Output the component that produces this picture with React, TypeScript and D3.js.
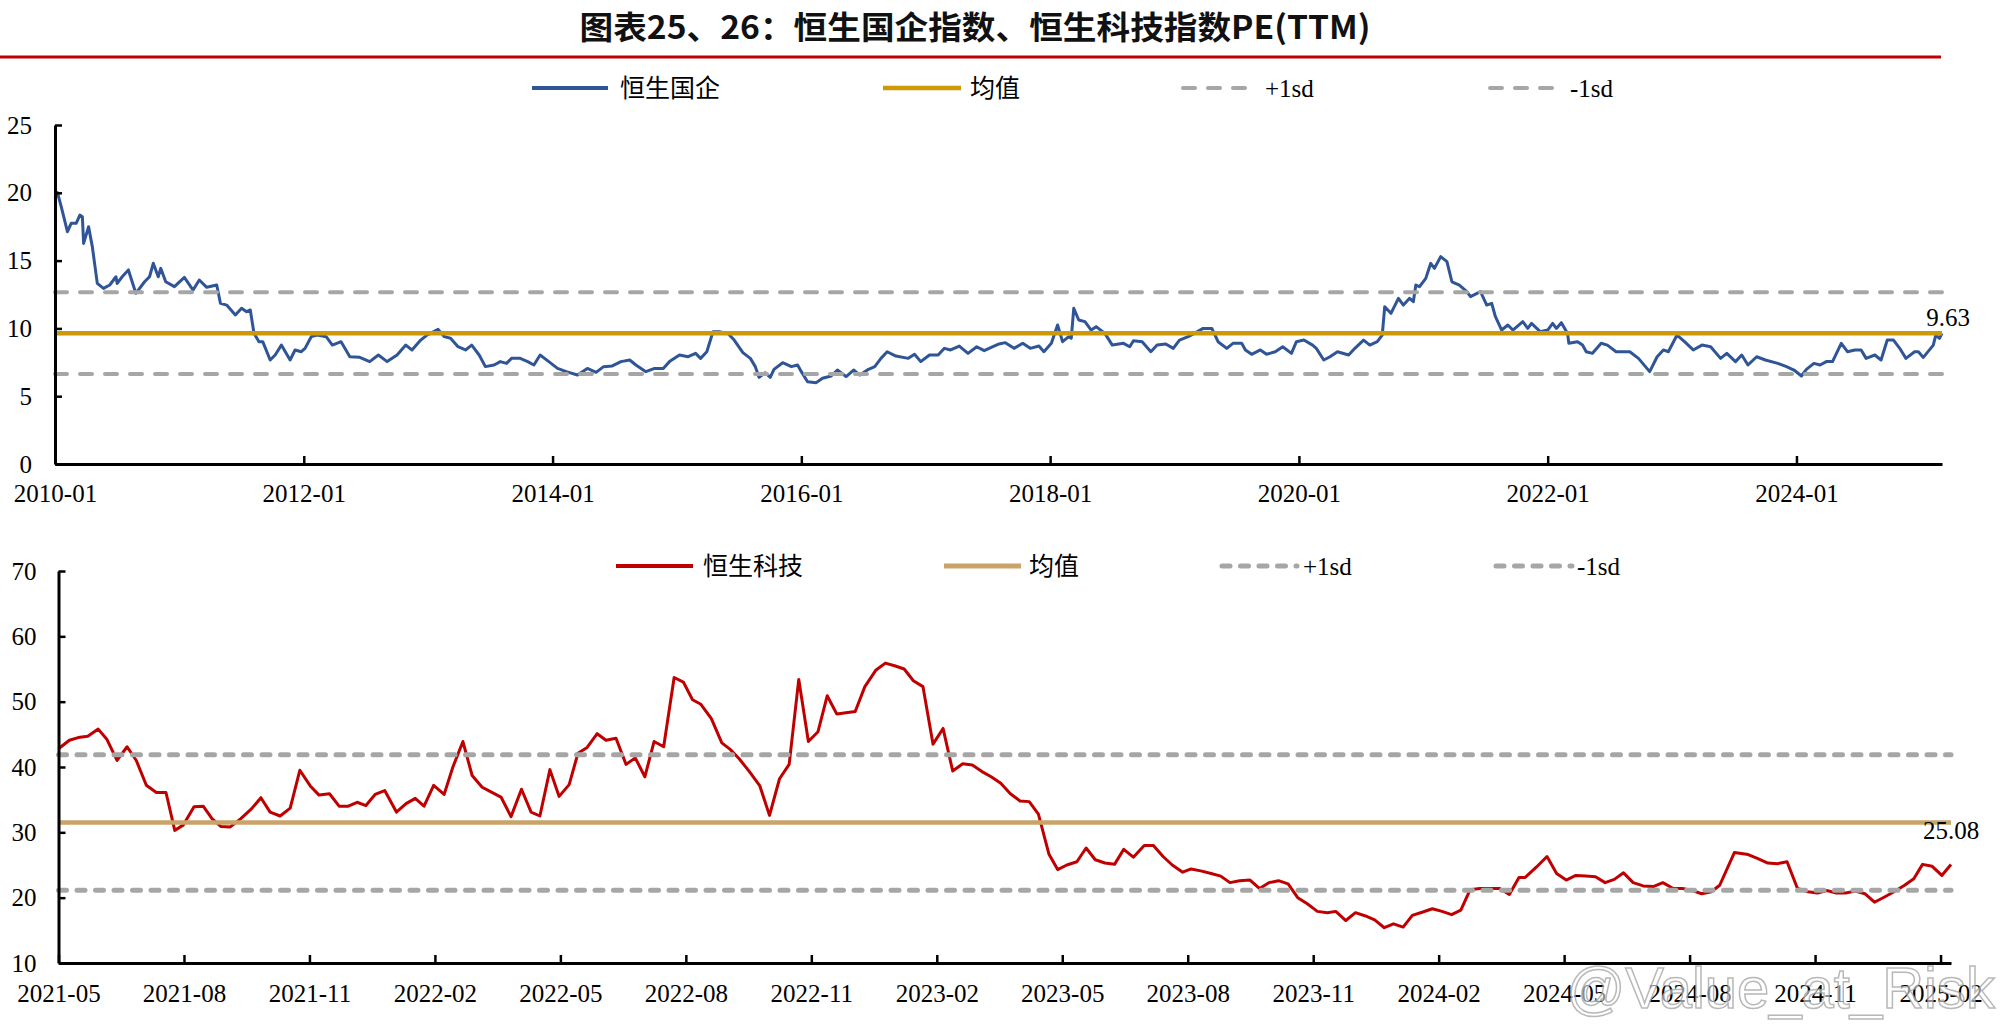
import { useEffect, useRef } from 'react'
import * as d3 from 'd3'

const W = 2001
const H = 1029
const SERIF = '"Liberation Serif", "Times New Roman", "Noto Sans CJK SC", serif'
const TITLE_FONT = '"Noto Sans CJK SC", "Liberation Sans", sans-serif'

// ---- 恒生国企 PE(TTM), x = decimal year ----
const hsceiT = [
  2010.00, 2010.02, 2010.05, 2010.10, 2010.13, 2010.17, 2010.20, 2010.22, 2010.23, 2010.27,
  2010.30, 2010.34, 2010.39, 2010.44, 2010.49, 2010.50, 2010.54, 2010.59, 2010.65, 2010.72,
  2010.76, 2010.79, 2010.83, 2010.85, 2010.89, 2010.96, 2011.04, 2011.11, 2011.16, 2011.22,
  2011.30, 2011.33, 2011.38, 2011.45, 2011.50, 2011.54, 2011.57, 2011.60, 2011.64, 2011.67,
  2011.73, 2011.77, 2011.82, 2011.89, 2011.93, 2011.98, 2012.01, 2012.06, 2012.11, 2012.18,
  2012.23, 2012.30, 2012.37, 2012.45, 2012.53, 2012.60, 2012.67, 2012.75, 2012.82, 2012.87,
  2012.94, 2012.99, 2013.08, 2013.13, 2013.18, 2013.24, 2013.30, 2013.35, 2013.41, 2013.46,
  2013.53, 2013.58, 2013.63, 2013.67, 2013.74, 2013.80, 2013.85, 2013.90, 2013.97, 2014.04,
  2014.11, 2014.20, 2014.28, 2014.35, 2014.41, 2014.48, 2014.55, 2014.62, 2014.67, 2014.75,
  2014.82, 2014.89, 2014.94, 2015.02, 2015.09, 2015.15, 2015.19, 2015.24, 2015.29, 2015.34,
  2015.41, 2015.46, 2015.53, 2015.59, 2015.63, 2015.66, 2015.71, 2015.75, 2015.78, 2015.85,
  2015.92, 2015.97, 2016.00, 2016.05, 2016.12, 2016.17, 2016.24, 2016.29, 2016.36, 2016.42,
  2016.47, 2016.54, 2016.59, 2016.64, 2016.69, 2016.76, 2016.86, 2016.91, 2016.96, 2017.03,
  2017.10, 2017.15, 2017.20, 2017.27, 2017.34, 2017.41, 2017.47, 2017.54, 2017.59, 2017.64,
  2017.71, 2017.78, 2017.84, 2017.91, 2017.95, 2018.01, 2018.06, 2018.10, 2018.15, 2018.17,
  2018.19, 2018.23, 2018.28, 2018.33, 2018.37, 2018.44, 2018.50, 2018.59, 2018.64, 2018.67,
  2018.74, 2018.81, 2018.86, 2018.93, 2018.99, 2019.04, 2019.11, 2019.16, 2019.23, 2019.30,
  2019.35, 2019.42, 2019.47, 2019.54, 2019.57, 2019.62, 2019.69, 2019.74, 2019.81, 2019.87,
  2019.94, 2019.98, 2020.04, 2020.11, 2020.14, 2020.20, 2020.25, 2020.31, 2020.40, 2020.45,
  2020.52, 2020.57, 2020.63, 2020.67, 2020.69, 2020.74, 2020.80, 2020.84, 2020.89, 2020.92,
  2020.94, 2020.97, 2021.02, 2021.06, 2021.09, 2021.14, 2021.19, 2021.23, 2021.29, 2021.35,
  2021.38, 2021.46, 2021.51, 2021.55, 2021.58, 2021.63, 2021.68, 2021.72, 2021.80, 2021.84,
  2021.87, 2021.94, 2022.00, 2022.04, 2022.07, 2022.11, 2022.16, 2022.17, 2022.24, 2022.28,
  2022.31, 2022.36, 2022.43, 2022.48, 2022.55, 2022.66, 2022.73, 2022.82, 2022.88, 2022.93,
  2022.97, 2023.04, 2023.10, 2023.17, 2023.24, 2023.31, 2023.39, 2023.44, 2023.51, 2023.56,
  2023.61, 2023.68, 2023.75, 2023.85, 2023.92, 2023.98, 2024.04, 2024.08, 2024.14, 2024.19,
  2024.24, 2024.29, 2024.36, 2024.41, 2024.47, 2024.52, 2024.56, 2024.63, 2024.68, 2024.73,
  2024.78, 2024.83, 2024.88, 2024.95, 2024.98, 2025.02, 2025.10, 2025.12, 2025.15, 2025.17,
]
const hsceiPE = [
  19.59, 20.01, 18.98, 17.13, 17.75, 17.75, 18.36, 18.24, 16.27, 17.50,
  16.03, 13.32, 12.95, 13.20, 13.81, 13.32, 13.81, 14.31, 12.59, 13.44,
  13.81, 14.80, 13.81, 14.43, 13.44, 13.08, 13.76, 12.83, 13.57, 13.03,
  13.20, 11.85, 11.72, 10.99, 11.48, 11.23, 11.36, 9.63, 9.02, 9.02,
  7.67, 8.04, 8.77, 7.67, 8.41, 8.28, 8.53, 9.39, 9.51, 9.39,
  8.77, 9.02, 7.91, 7.87, 7.55, 8.04, 7.55, 8.04, 8.77, 8.41,
  9.14, 9.51, 9.93, 9.39, 9.27, 8.65, 8.41, 8.77, 8.04, 7.18,
  7.30, 7.55, 7.42, 7.79, 7.79, 7.55, 7.30, 8.04, 7.55, 7.05,
  6.81, 6.56, 7.05, 6.76, 7.18, 7.23, 7.55, 7.67, 7.30, 6.81,
  7.05, 7.05, 7.55, 8.04, 7.91, 8.16, 7.79, 8.28, 9.76, 9.76,
  9.63, 9.14, 8.21, 7.79, 7.18, 6.39, 6.73, 6.39, 6.98, 7.47,
  7.18, 7.30, 6.81, 6.07, 6.00, 6.32, 6.49, 6.93, 6.44, 6.93,
  6.56, 6.98, 7.18, 7.79, 8.28, 7.96, 7.79, 8.09, 7.55, 8.04,
  8.04, 8.53, 8.41, 8.70, 8.16, 8.65, 8.36, 8.65, 8.85, 8.95,
  8.53, 8.90, 8.53, 8.70, 8.28, 8.90, 10.25, 9.02, 9.39, 9.27,
  11.48, 10.62, 10.50, 9.88, 10.13, 9.63, 8.77, 8.90, 8.65, 9.09,
  9.02, 8.28, 8.77, 8.85, 8.53, 9.14, 9.39, 9.63, 10.00, 10.00,
  9.02, 8.53, 8.90, 8.90, 8.41, 8.09, 8.41, 8.09, 8.28, 8.65,
  8.16, 9.02, 9.14, 8.77, 8.53, 7.67, 7.91, 8.28, 8.04, 8.53,
  9.14, 8.77, 9.02, 9.51, 11.60, 11.11, 12.22, 11.72, 12.22, 11.97,
  13.20, 13.08, 13.69, 14.80, 14.43, 15.29, 14.92, 13.44, 13.20, 12.71,
  12.34, 12.71, 11.72, 11.85, 10.86, 9.88, 10.25, 9.88, 10.50, 10.00,
  10.37, 9.76, 9.88, 10.37, 10.00, 10.42, 9.63, 8.90, 9.02, 8.77,
  8.28, 8.16, 8.90, 8.77, 8.28, 8.28, 7.79, 6.81, 7.91, 8.41,
  8.28, 9.51, 9.02, 8.41, 8.77, 8.65, 7.79, 8.16, 7.55, 8.04,
  7.30, 7.91, 7.67, 7.42, 7.18, 6.93, 6.49, 6.98, 7.42, 7.30,
  7.55, 7.55, 8.90, 8.28, 8.41, 8.41, 7.79, 8.04, 7.67, 9.14,
  9.14, 8.53, 7.79, 8.28, 8.28, 7.86, 8.77, 9.51, 9.27, 9.63,
]
const hsceiMean = 9.64
const hsceiPlus1sd = 12.66
const hsceiMinus1sd = 6.64
const hsceiTickYears = [2010, 2012, 2014, 2016, 2018, 2020, 2022, 2024]
const hsceiTickLabels = ['2010-01', '2012-01', '2014-01', '2016-01', '2018-01', '2020-01', '2022-01', '2024-01']
const hsceiYTicks = [0, 5, 10, 15, 20, 25]

// ---- 恒生科技 PE(TTM), x = months since 2021-05 (weekly) ----
const hstechM = [
  0.00, 0.26, 0.47, 0.70, 0.95, 1.16, 1.40, 1.64, 1.86, 2.10,
  2.34, 2.57, 2.78, 2.98, 3.24, 3.46, 3.67, 3.88, 4.10, 4.36,
  4.60, 4.84, 5.06, 5.30, 5.54, 5.77, 6.02, 6.23, 6.48, 6.71,
  6.93, 7.14, 7.35, 7.57, 7.80, 8.08, 8.31, 8.53, 8.74, 8.97,
  9.22, 9.43, 9.67, 9.89, 10.13, 10.34, 10.58, 10.82, 11.07, 11.30,
  11.51, 11.75, 11.97, 12.21, 12.42, 12.64, 12.88, 13.09, 13.33, 13.57,
  13.79, 14.02, 14.24, 14.47, 14.72, 14.94, 15.16, 15.36, 15.61, 15.86,
  16.06, 16.27, 16.52, 16.77, 17.00, 17.24, 17.47, 17.70, 17.93, 18.16,
  18.38, 18.61, 18.83, 19.05, 19.28, 19.54, 19.77, 19.99, 20.22, 20.44,
  20.67, 20.91, 21.15, 21.38, 21.62, 21.85, 22.08, 22.30, 22.53, 22.76,
  22.99, 23.21, 23.43, 23.68, 23.89, 24.11, 24.35, 24.57, 24.79, 25.02,
  25.25, 25.47, 25.70, 25.96, 26.18, 26.41, 26.63, 26.88, 27.08, 27.31,
  27.56, 27.79, 28.01, 28.24, 28.49, 28.72, 28.94, 29.17, 29.40, 29.63,
  29.85, 30.10, 30.34, 30.54, 30.78, 31.01, 31.25, 31.47, 31.70, 31.92,
  32.15, 32.37, 32.62, 32.85, 33.08, 33.31, 33.53, 33.75, 33.98, 34.23,
  34.46, 34.69, 34.92, 35.07, 35.34, 35.59, 35.82, 36.05, 36.28, 36.52,
  36.75, 36.98, 37.20, 37.42, 37.65, 37.89, 38.13, 38.36, 38.61, 38.83,
  39.06, 39.29, 39.52, 39.72, 40.07, 40.40, 40.62, 40.87, 41.10, 41.33,
  41.58, 41.83, 42.06, 42.28, 42.51, 42.73, 42.96, 43.19, 43.42, 43.66,
  43.89, 44.14, 44.36, 44.57, 44.80, 45.03, 45.25,
]
const hstechPE = [
  42.8, 44.1, 44.5, 44.7, 45.8, 44.2, 41.0, 43.1, 41.0, 37.2,
  36.1, 36.1, 30.3, 31.1, 33.9, 34.0, 32.1, 30.9, 30.8, 32.1,
  33.5, 35.3, 33.1, 32.5, 33.7, 39.5, 37.1, 35.7, 35.9, 34.0,
  34.0, 34.6, 34.1, 35.8, 36.4, 33.1, 34.4, 35.2, 34.0, 37.2,
  35.8, 40.0, 43.9, 38.7, 36.9, 36.2, 35.4, 32.4, 36.6, 33.1,
  32.5, 39.6, 35.5, 37.3, 42.1, 43.0, 45.1, 44.1, 44.4, 40.4,
  41.4, 38.5, 43.9, 43.1, 53.7, 53.0, 50.3, 49.6, 47.4, 43.7,
  42.7, 41.3, 39.3, 37.1, 32.6, 38.2, 40.4, 53.4, 43.9, 45.4,
  50.9, 48.1, 48.3, 48.5, 52.3, 54.8, 55.9, 55.5, 55.0, 53.2,
  52.3, 43.5, 45.9, 39.4, 40.5, 40.3, 39.3, 38.5, 37.5, 35.9,
  34.8, 34.7, 32.8, 26.7, 24.3, 25.0, 25.5, 27.6, 25.8, 25.3,
  25.1, 27.4, 26.2, 28.0, 28.0, 26.3, 25.0, 23.9, 24.4, 24.1,
  23.7, 23.3, 22.3, 22.6, 22.7, 21.4, 22.3, 22.6, 22.1, 20.0,
  19.1, 17.9, 17.7, 17.9, 16.5, 17.7, 17.2, 16.6, 15.4, 16.0,
  15.5, 17.3, 17.8, 18.3, 17.9, 17.4, 18.1, 21.2, 21.4, 21.4,
  21.4, 20.5, 23.1, 23.1, 24.7, 26.3, 23.7, 22.7, 23.4, 23.3,
  23.2, 22.3, 22.8, 23.8, 22.3, 21.8, 21.7, 22.3, 21.4, 21.4,
  21.1, 20.6, 20.9, 21.9, 26.9, 26.6, 26.0, 25.3, 25.2, 25.5,
  21.4, 20.9, 20.7, 21.1, 20.7, 20.7, 21.0, 20.6, 19.3, 20.1,
  20.9, 21.9, 22.9, 25.1, 24.8, 23.4, 25.08,
]
const hstechMean = 31.5
const hstechPlus1sd = 41.86
const hstechMinus1sd = 21.13
const hstechTickM = [0, 3, 6, 9, 12, 15, 18, 21, 24, 27, 30, 33, 36, 39, 42, 45]
const hstechTickLabels = [
  '2021-05', '2021-08', '2021-11', '2022-02', '2022-05', '2022-08', '2022-11', '2023-02',
  '2023-05', '2023-08', '2023-11', '2024-02', '2024-05', '2024-08', '2024-11', '2025-02',
]
const hstechYTicks = [10, 20, 30, 40, 50, 60, 70]

interface LegendItem {
  label: string
  color: string
  width: number
  dash: string | null
  x0: number
  x1: number
  tx: number
}

interface Panel {
  t: number[]
  v: number[]
  color: string
  meanColor: string
  mean: number
  plus: number
  minus: number
  sdDash: string
  sdWidth: number
  xDomain: [number, number]
  xRange: [number, number]
  yDomain: [number, number]
  yRange: [number, number]
  xTicks: number[]
  xLabels: string[]
  yTicks: number[]
  yPad: number
  xPad: number
  endLabel: string
  endLabelPos: [number, number]
  legendY: number
  legend: LegendItem[]
}

const GRAY = '#A6A6A6'

function drawPanel(root: d3.Selection<SVGGElement, unknown, null, undefined>, p: Panel) {
  const g = root.append('g')
  const x = d3.scaleLinear().domain(p.xDomain).range(p.xRange)
  const y = d3.scaleLinear().domain(p.yDomain).range(p.yRange)

  const line = d3.line<number>()
    .x((_, i) => x(p.t[i]))
    .y(d => y(d))

  g.append('path')
    .attr('d', line(p.v) as string)
    .attr('fill', 'none')
    .attr('stroke', p.color)
    .attr('stroke-width', 3)
    .attr('stroke-linejoin', 'round')

  const hline = (val: number, color: string, w: number, dash: string | null) => {
    g.append('line')
      .attr('x1', x(p.xDomain[0]))
      .attr('x2', x(p.xDomain[1]))
      .attr('y1', y(val))
      .attr('y2', y(val))
      .attr('stroke', color)
      .attr('stroke-width', w)
      .attr('stroke-dasharray', dash)
      .attr('stroke-linecap', dash ? 'round' : 'butt')
  }
  hline(p.mean, p.meanColor, 4.5, null)
  hline(p.plus, GRAY, p.sdWidth, p.sdDash)
  hline(p.minus, GRAY, p.sdWidth, p.sdDash)

  // axes (Excel style: ticks inside)
  const ya = g.append('g')
    .attr('transform', `translate(${p.xRange[0]},0)`)
    .call(
      d3.axisLeft(y)
        .tickValues(p.yTicks)
        .tickSize(-7)
        .tickSizeOuter(0)
        .tickPadding(p.yPad)
        .tickFormat(d3.format('d')),
    )
  const xa = g.append('g')
    .attr('transform', `translate(0,${p.yRange[0]})`)
    .call(
      d3.axisBottom(x)
        .tickValues(p.xTicks)
        .tickSize(-8)
        .tickSizeOuter(0)
        .tickPadding(p.xPad)
        .tickFormat((_, i) => p.xLabels[i]),
    )
  for (const a of [ya, xa]) {
    a.attr('font-family', SERIF).attr('font-size', 25)
    a.select('.domain').attr('stroke', '#000').attr('stroke-width', 3)
    a.selectAll('.tick line').attr('stroke', '#000').attr('stroke-width', 2.5)
    a.selectAll('.tick text').attr('fill', '#000')
  }

  g.append('text')
    .attr('x', p.endLabelPos[0])
    .attr('y', p.endLabelPos[1])
    .attr('dy', '0.35em')
    .attr('text-anchor', 'middle')
    .attr('font-family', SERIF)
    .attr('font-size', 25)
    .attr('fill', '#000')
    .text(p.endLabel)

  // legend
  const lg = g.append('g')
  p.legend.forEach(item => {
    lg.append('line')
      .attr('x1', item.x0)
      .attr('x2', item.x1)
      .attr('y1', p.legendY)
      .attr('y2', p.legendY)
      .attr('stroke', item.color)
      .attr('stroke-width', item.width)
      .attr('stroke-dasharray', item.dash)
      .attr('stroke-linecap', item.dash ? 'round' : 'butt')
    lg.append('text')
      .attr('x', item.tx)
      .attr('y', p.legendY)
      .attr('dy', '0.36em')
      .attr('font-family', SERIF)
      .attr('font-size', 25)
      .attr('fill', '#000')
      .text(item.label)
  })
}

export default function App() {
  const ref = useRef<SVGSVGElement>(null)

  useEffect(() => {
    if (!ref.current) return
    const svg = d3.select(ref.current)
    svg.selectAll('*').remove()
    const root = svg.append('g')

    root.append('rect').attr('width', W).attr('height', H).attr('fill', '#fff')

    root.append('text')
      .attr('x', 975)
      .attr('y', 27)
      .attr('dy', '0.36em')
      .attr('text-anchor', 'middle')
      .attr('font-family', TITLE_FONT)
      .attr('font-weight', 700)
      .attr('font-size', 32)
      .attr('textLength', 791)
      .attr('lengthAdjust', 'spacingAndGlyphs')
      .attr('fill', '#111')
      .text('图表25、26：恒生国企指数、恒生科技指数PE(TTM)')

    root.append('line')
      .attr('x1', 0).attr('x2', 1941)
      .attr('y1', 57).attr('y2', 57)
      .attr('stroke', '#C00000')
      .attr('stroke-width', 3)

    drawPanel(root, {
      t: hsceiT,
      v: hsceiPE,
      color: '#2F5597',
      meanColor: '#CC9A06',
      mean: hsceiMean,
      plus: hsceiPlus1sd,
      minus: hsceiMinus1sd,
      sdDash: '12 13',
      sdWidth: 4,
      xDomain: [2010, 2025.17],
      xRange: [55, 1942],
      yDomain: [0, 25],
      yRange: [464, 125],
      xTicks: hsceiTickYears,
      xLabels: hsceiTickLabels,
      yTicks: hsceiYTicks,
      yPad: 23,
      xPad: 20,
      endLabel: '9.63',
      endLabelPos: [1948, 317],
      legendY: 88,
      legend: [
        { label: '恒生国企', color: '#2F5597', width: 4, dash: null, x0: 532, x1: 608, tx: 620 },
        { label: '均值', color: '#CC9A06', width: 4.5, dash: null, x0: 883, x1: 961, tx: 970 },
        { label: '+1sd', color: GRAY, width: 4, dash: '12 13', x0: 1183, x1: 1245, tx: 1265 },
        { label: '-1sd', color: GRAY, width: 4, dash: '12 13', x0: 1490, x1: 1563, tx: 1570 },
      ],
    })

    drawPanel(root, {
      t: hstechM,
      v: hstechPE,
      color: '#C00000',
      meanColor: '#C9A367',
      mean: hstechMean,
      plus: hstechPlus1sd,
      minus: hstechMinus1sd,
      sdDash: '8 10.5',
      sdWidth: 5,
      xDomain: [0, 45.25],
      xRange: [58.5, 1951],
      yDomain: [10, 70],
      yRange: [963, 571],
      xTicks: hstechTickM,
      xLabels: hstechTickLabels,
      yTicks: hstechYTicks,
      yPad: 22,
      xPad: 21,
      endLabel: '25.08',
      endLabelPos: [1951, 830],
      legendY: 566,
      legend: [
        { label: '恒生科技', color: '#C00000', width: 4, dash: null, x0: 616, x1: 693, tx: 703 },
        { label: '均值', color: '#C9A367', width: 5, dash: null, x0: 944, x1: 1021, tx: 1029 },
        { label: '+1sd', color: GRAY, width: 5, dash: '8 10.5', x0: 1222, x1: 1297, tx: 1303 },
        { label: '-1sd', color: GRAY, width: 5, dash: '8 10.5', x0: 1496, x1: 1572, tx: 1577 },
      ],
    })

    // platform watermark (sits over the bottom-right axis labels, as in the source)
    root.append('text')
      .attr('x', 1995)
      .attr('y', 1008)
      .attr('text-anchor', 'end')
      .attr('font-family', '"Liberation Sans", Arial, sans-serif')
      .attr('font-size', 58)
      .attr('fill', '#fff')
      .attr('fill-opacity', 0.55)
      .attr('stroke', '#9a9a9a')
      .attr('stroke-opacity', 0.7)
      .attr('stroke-width', 1.5)
      .text('@Value_at_Risk')
  }, [])

  return (
    <div style={{ position: 'absolute', left: 0, top: 0, width: W, height: H }}>
      <svg ref={ref} width={W} height={H} style={{ display: 'block' }} />
    </div>
  )
}
